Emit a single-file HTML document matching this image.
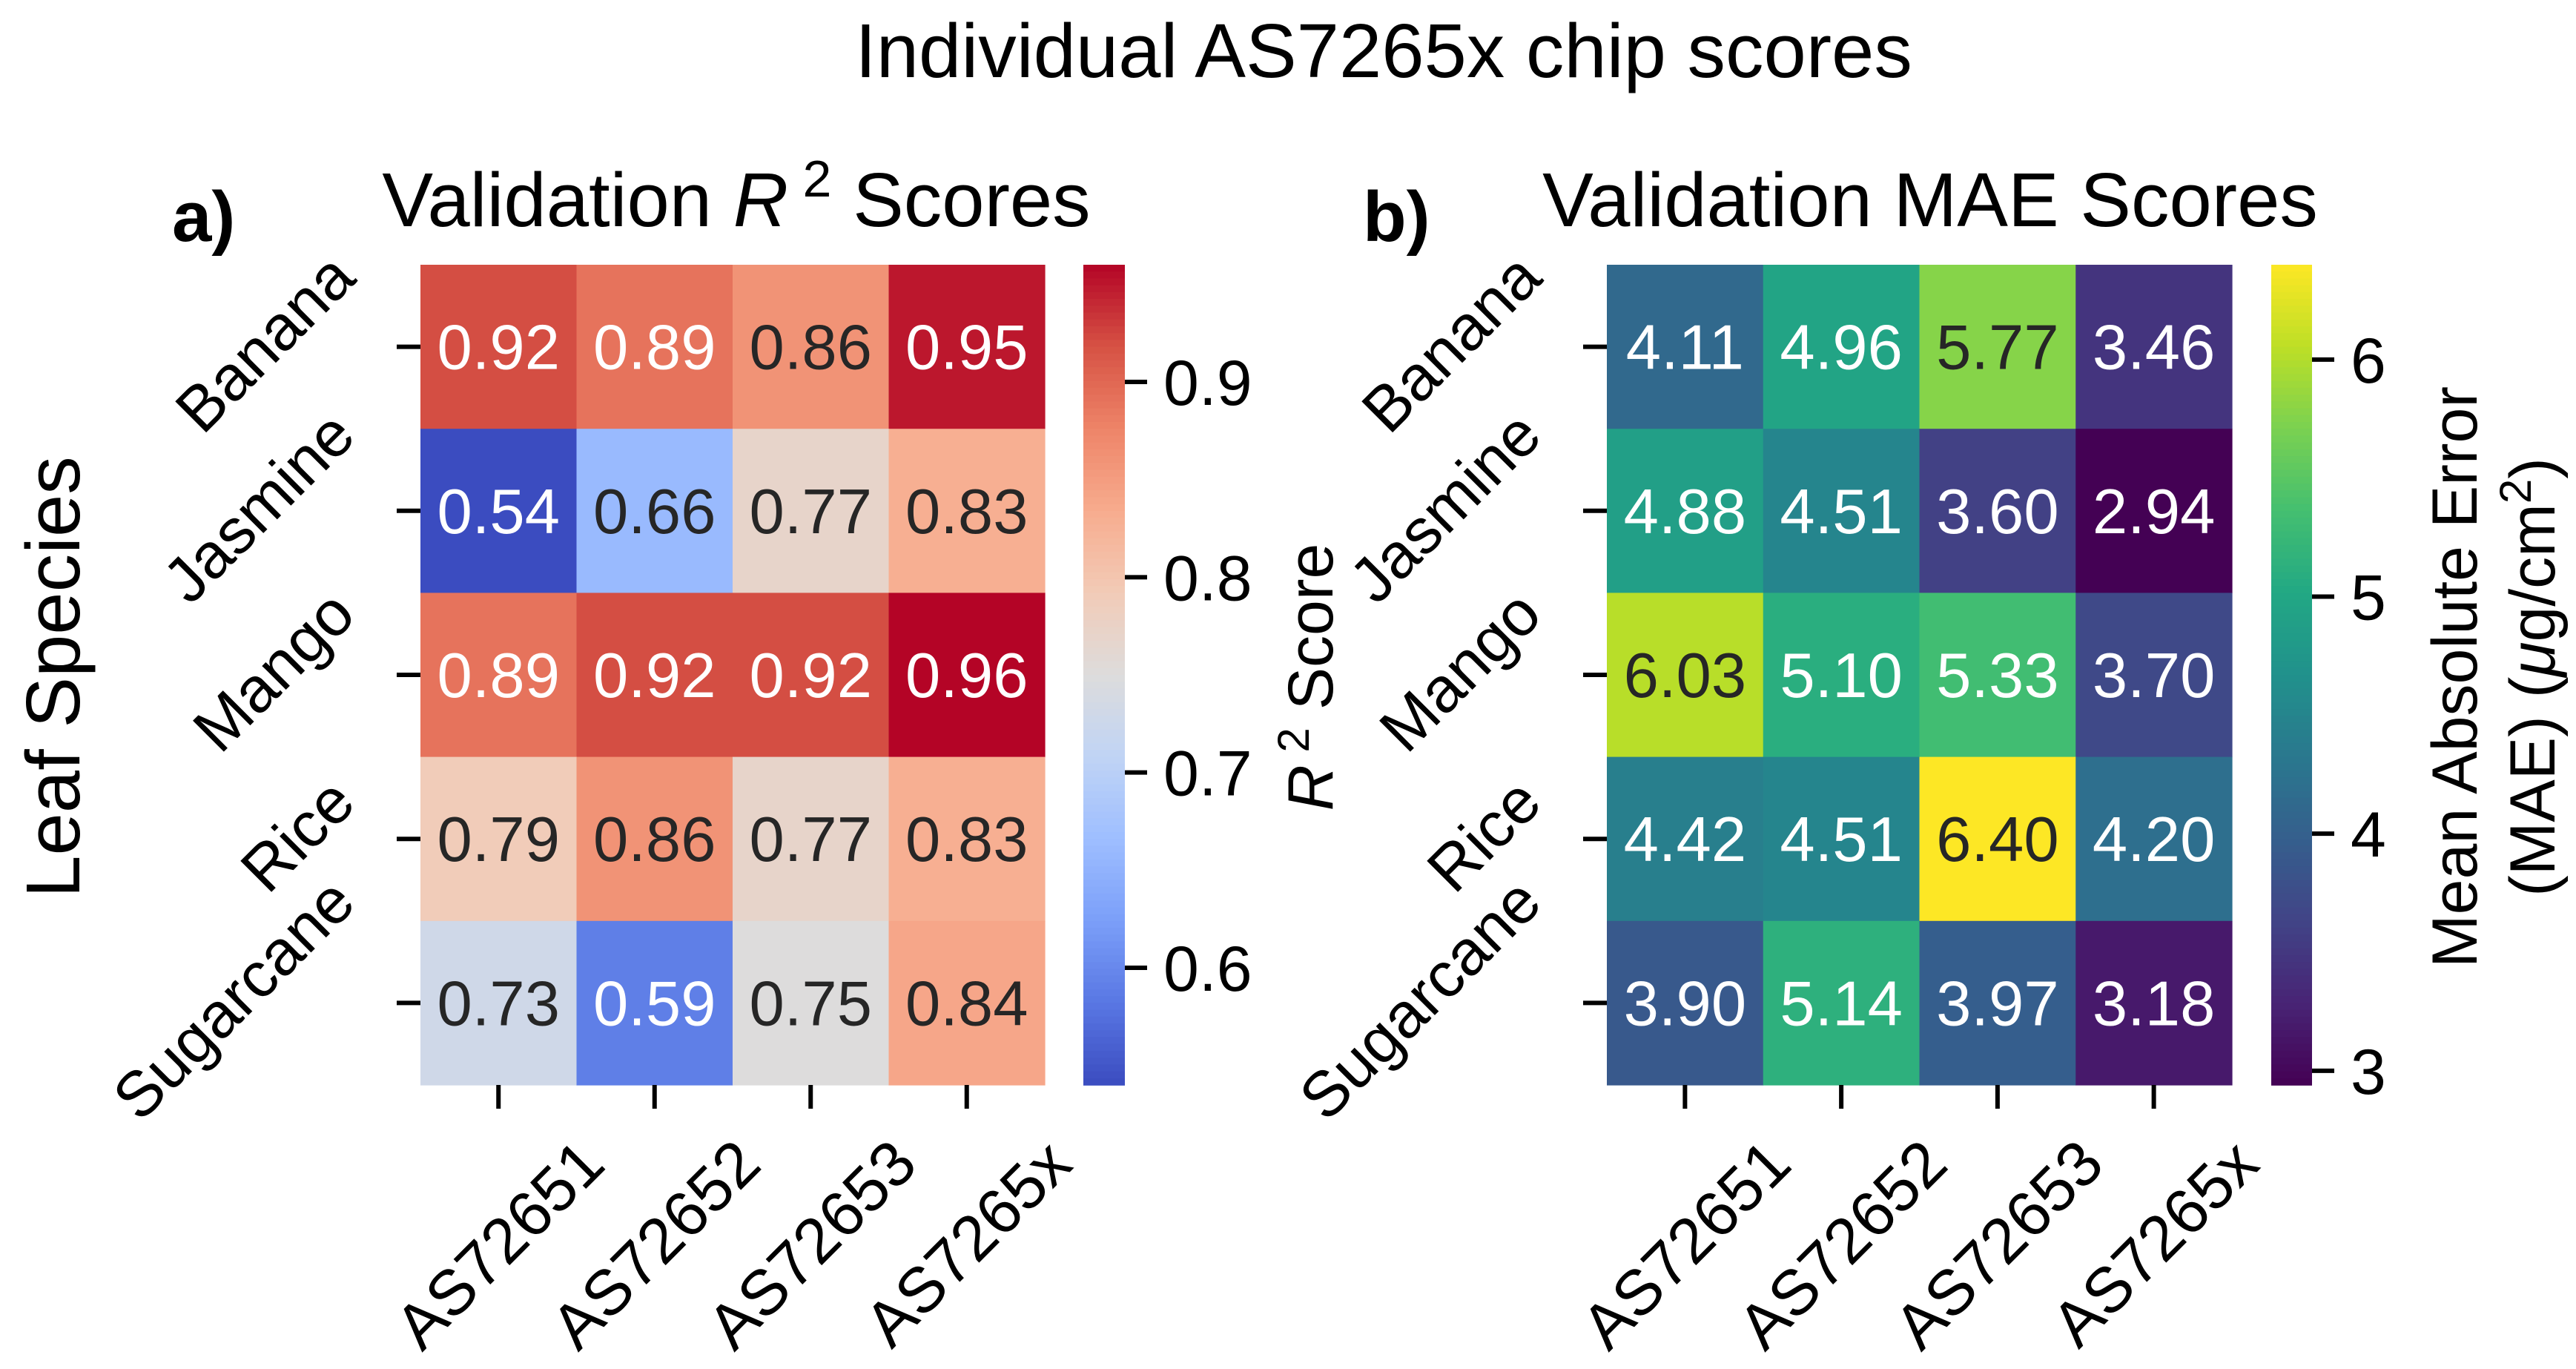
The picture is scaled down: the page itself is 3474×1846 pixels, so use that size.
<!DOCTYPE html>
<html><head><meta charset="utf-8"><style>
html,body{margin:0;padding:0;background:#fff;}
svg{display:block;font-family:"Liberation Sans",Arial,sans-serif;}
</style></head><body>
<svg id="fig" width="3474" height="1846" viewBox="0 0 3474 1846" xmlns="http://www.w3.org/2000/svg">
<text x="1866" y="104" font-size="103" text-anchor="middle" fill="#000">Individual AS7265x chip scores</text>
<text transform="translate(107,913) rotate(-90)" font-size="103" text-anchor="middle" fill="#000">Leaf Species</text>
<text x="232" y="325" font-size="96" font-weight="bold" fill="#000">a)</text>
<text x="1838" y="325" font-size="96" font-weight="bold" fill="#000">b)</text>
<text x="993" y="305" font-size="103" text-anchor="middle" fill="#000">Validation <tspan font-style="italic">R</tspan><tspan dy="-40" font-size="70"> 2</tspan><tspan dy="40"> Scores</tspan></text>
<text x="2603" y="305" font-size="103" text-anchor="middle" fill="#000">Validation MAE Scores</text>
<text transform="translate(1797,913) rotate(-90)" font-size="86" text-anchor="middle" fill="#000"><tspan font-style="italic">R</tspan><tspan dy="-32" font-size="60"> 2</tspan><tspan dy="32"> Score</tspan></text>
<text transform="translate(3340,913) rotate(-90)" font-size="86" text-anchor="middle" fill="#000">Mean Absolute Error</text>
<text transform="translate(3445,913) rotate(-90)" font-size="86" text-anchor="middle" fill="#000">(MAE) (<tspan font-style="italic">μ</tspan>g/cm<tspan dy="-32" font-size="60">2</tspan><tspan dy="32">)</tspan></text>
<g id="layer"></g>
</svg>
<script>
const rows = ["Banana","Jasmine","Mango","Rice","Sugarcane"];
const cols = ["AS72651","AS72652","AS72653","AS7265x"];
const r2Values = [
 [0.92,0.89,0.86,0.95],
 [0.54,0.66,0.77,0.83],
 [0.89,0.92,0.92,0.96],
 [0.79,0.86,0.77,0.83],
 [0.73,0.59,0.75,0.84]];
const maeValues = [
 [4.11,4.96,5.77,3.46],
 [4.88,4.51,3.60,2.94],
 [6.03,5.10,5.33,3.70],
 [4.42,4.51,6.40,4.20],
 [3.90,5.14,3.97,3.18]];
const r2Ticks = [0.6,0.7,0.8,0.9];
const r2TickLabels = ["0.6","0.7","0.8","0.9"];
const maeTicks = [3,4,5,6];
const maeTickLabels = ["3","4","5","6"];

const NS="http://www.w3.org/2000/svg";
const layer=document.getElementById('layer');
function el(tag,attrs,parent){const e=document.createElementNS(NS,tag);for(const k in attrs)e.setAttribute(k,attrs[k]);(parent||layer).appendChild(e);return e;}
function hex(h){return [parseInt(h.substr(1,2),16),parseInt(h.substr(3,2),16),parseInt(h.substr(5,2),16)];}
const coolwarm=["#3b4cc0","#5977e3","#7b9ff9","#9ebeff","#c0d4f5","#dddcdc","#f2cbb7","#f7ac8e","#ee8468","#d65244","#b40426"].map(hex);
const viridis=["#440154","#482475","#414487","#355f8d","#2a788e","#21918c","#22a884","#44bf70","#7ad151","#bddf26","#fde725"].map(hex);
function cmap(stops,t){t=Math.max(0,Math.min(1,t));const n=stops.length-1;const i=Math.min(n-1,Math.floor(t*n));const f=t*n-i;const a=stops[i],b=stops[i+1];return [0,1,2].map(k=>Math.round(a[k]+(b[k]-a[k])*f));}
function rgb(c){return `rgb(${c[0]},${c[1]},${c[2]})`;}
function lum(c){const l=c.map(v=>{v/=255;return v<=0.03928?v/12.92:Math.pow((v+0.055)/1.055,2.4);});return 0.2126*l[0]+0.7152*l[1]+0.0722*l[2];}

const TOP=357,BOT=1463;
const TFS=86;
function panel(id,x0,x1,vals,stops,vmin,vmax,fmt,cbX0,cbX1,ticks,tickLabels){
  const g=el('g',{});
  
  
  const cw=(x1-x0)/cols.length, rh=(BOT-TOP)/rows.length;
  const xs=j=>x0+j*cw, ys=i=>TOP+i*rh;
  vals.forEach((row,i)=>row.forEach((v,j)=>{
    const c=cmap(stops,(v-vmin)/(vmax-vmin));
    const r=el('rect',{x:xs(j),y:ys(i),width:cw+0.6,height:rh+0.6,fill:rgb(c)},g);
    
    
    const t=el('text',{x:xs(j)+cw/2,y:ys(i)+rh/2+30,'font-size':85,'text-anchor':'middle',fill:lum(c)>0.408?'#262626':'#ffffff'},g);
    t.textContent=fmt(v);
    
    
  }));
  rows.forEach((name,i)=>{
    const y=ys(i)+rh/2;
    const tk=el('line',{x1:x0-32,x2:x0,y1:y,y2:y,stroke:'#000','stroke-width':6},g);
    
    
    const fs=TFS;
    const t=el('text',{'font-size':fs,'text-anchor':'end',fill:'#000'},g);
    t.textContent=name;
    
    
    const w=t.getComputedTextLength(), a=0.72*fs, d=0.2*fs;
    const ax=x0-72-0.707*d, ay=y-0.354*(w+d-a);
    t.setAttribute('transform',`translate(${ax},${ay}) rotate(-45)`);
  });
  cols.forEach((name,j)=>{
    const x=xs(j)+cw/2;
    const tk=el('line',{x1:x,x2:x,y1:BOT,y2:BOT+32,stroke:'#000','stroke-width':6},g);
    
    
    const fs=TFS;
    const t=el('text',{'font-size':fs,'text-anchor':'end',fill:'#000'},g);
    t.textContent=name;
    
    
    const w=t.getComputedTextLength(), a=0.72*fs;
    const ax=x+0.354*(w+a), ay=1530+0.707*a;
    t.setAttribute('transform',`translate(${ax},${ay}) rotate(-45)`);
  });
  const cb=el('g',{});
  
  
  const N=120;
  for(let k=0;k<N;k++){
    const t0=k/N;
    const c=cmap(stops,1-t0-0.5/N);
    el('rect',{x:cbX0,y:TOP+(BOT-TOP)*t0,width:cbX1-cbX0,height:(BOT-TOP)/N+0.8,fill:rgb(c)},cb);
  }
  const cy=v=>BOT-(v-vmin)/(vmax-vmin)*(BOT-TOP);
  ticks.forEach((v,k)=>{
    const y=cy(v);
    const l=el('line',{x1:cbX1,x2:cbX1+30,y1:y,y2:y,stroke:'#000','stroke-width':6},cb);
    
    
    const t=el('text',{x:cbX1+52,y:y+31,'font-size':TFS,fill:'#000'},cb);
    t.textContent=tickLabels[k];
    
    
  });
}
panel('r2',567,1409,r2Values,coolwarm,0.54,0.96,v=>v.toFixed(2),1461,1517,r2Ticks,r2TickLabels);
panel('mae',2167,3010,maeValues,viridis,2.94,6.40,v=>v.toFixed(2),3063,3118,maeTicks,maeTickLabels);
</script>
</body></html>
